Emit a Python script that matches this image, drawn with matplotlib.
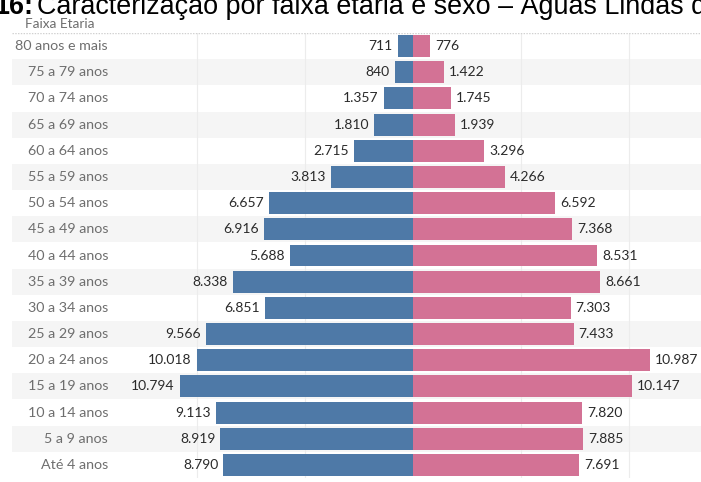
import matplotlib
matplotlib.use("Agg")
import matplotlib.pyplot as plt
import matplotlib.transforms as mtransforms

categories = ["80 anos e mais", "75 a 79 anos", "70 a 74 anos", "65 a 69 anos",
              "60 a 64 anos", "55 a 59 anos", "50 a 54 anos", "45 a 49 anos",
              "40 a 44 anos", "35 a 39 anos", "30 a 34 anos", "25 a 29 anos",
              "20 a 24 anos", "15 a 19 anos", "10 a 14 anos", "5 a 9 anos", "Até 4 anos"]
male = [711, 840, 1357, 1810, 2715, 3813, 6657, 6916, 5688, 8338, 6851, 9566,
        10018, 10794, 9113, 8919, 8790]
female = [776, 1422, 1745, 1939, 3296, 4266, 6592, 7368, 8531, 8661, 7303, 7433,
          10987, 10147, 7820, 7885, 7691]
grid_ticks = [-10000, -5000, 5000, 10000]

BLUE = "#4e79a7"
PINK = "#d37295"

def fmt(v):
    return f"{v:,}".replace(",", ".")

W, H = 701, 482
fig = plt.figure(figsize=(W / 100, H / 100), dpi=100)

left_px, right_px, top_px, bot_px = 12, 701, 33, 478
ax = fig.add_axes([left_px / W, 1 - bot_px / H, (right_px - left_px) / W, (bot_px - top_px) / H])
center_px = 413
scale = 0.0216  # px per unit
xmin = -(center_px - left_px) / scale
xmax = (right_px - center_px) / scale
ax.set_xlim(xmin, xmax)
n = len(categories)
ax.set_ylim(n - 0.5, -0.5)
ax.axis("off")

for i in range(n):
    if i % 2 == 1:
        ax.axhspan(i - 0.5, i + 0.5, color="#f5f5f5", zorder=0, lw=0)

for g in grid_ticks:
    ax.axvline(g, color="#ececec", lw=0.8, zorder=1)

ax.axhline(-0.5, color="#d0d0d0", lw=1.0, ls=(0, (1, 1)), zorder=2)

ys = list(range(n))
ax.barh(ys, [-m for m in male], height=0.84, color=BLUE, zorder=3)
ax.barh(ys, female, height=0.84, color=PINK, zorder=3)

lab_font = dict(family=["Lato", "DejaVu Sans"])
pad = 5 / scale
for i in range(n):
    ax.text(-male[i] - pad, i, fmt(male[i]), ha="right", va="center",
            fontsize=10, color="#2a2a2a", zorder=4, **lab_font)
    ax.text(female[i] + pad, i, fmt(female[i]), ha="left", va="center",
            fontsize=10, color="#2a2a2a", zorder=4, **lab_font)

trans = mtransforms.blended_transform_factory(ax.transAxes, ax.transData)
lab_x = (108 - left_px) / (right_px - left_px)
for i, c in enumerate(categories):
    ax.text(lab_x, i, c, transform=trans, ha="right", va="center",
            fontsize=10.3, color="#6e6e6e", **lab_font)

fig.text(25 / W, 1 - 24 / H, "Faixa Etaria", ha="left", va="center",
         fontsize=9.8, color="#6e6e6e", **lab_font)

# Title (partially cut at top and right, as in the reference)
base = 1 - 14 / H
fig.text(33 / W, base, "16:", ha="right", va="baseline", fontsize=19.4,
         fontweight="bold", family="Liberation Sans", color="black")
fig.text(37 / W, base, "Caracterização por faixa etária e sexo – Águas Lindas de Goiás",
         ha="left", va="baseline", fontsize=19.4, family="Liberation Sans", color="black")

fig.savefig("out.png", dpi=100)
